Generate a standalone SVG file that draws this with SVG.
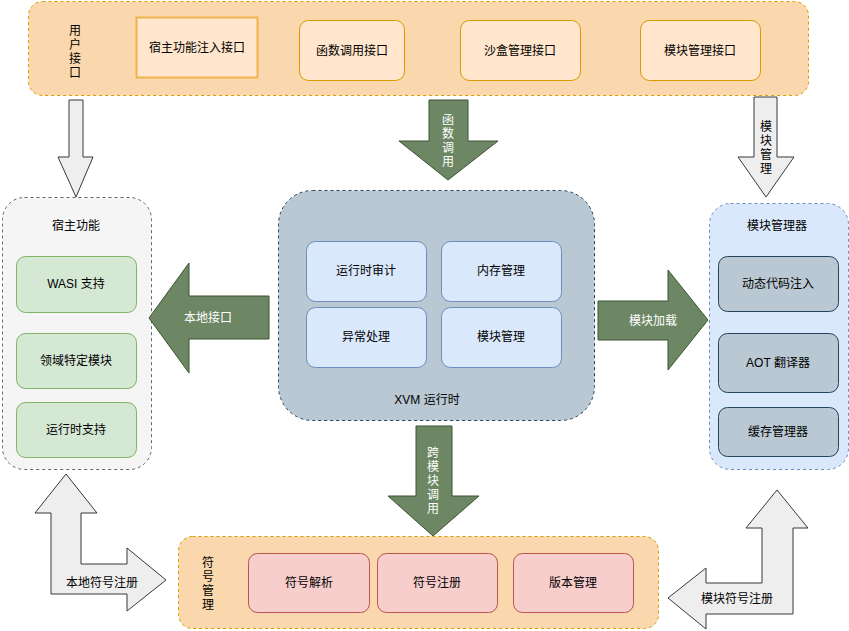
<svg xmlns="http://www.w3.org/2000/svg" width="849" height="631" viewBox="0 0 849 631">
<style>
text{font-family:"Liberation Sans","Noto Sans CJK SC",sans-serif;font-size:12px;fill:#000;text-anchor:middle;dominant-baseline:central}
.w{fill:#fff}
.org{fill:#fad7ac;stroke:#d79b00;stroke-dasharray:3 3}
.orgbox{fill:#ffe6cc;stroke:#d79b00}
.gray{fill:#f5f5f5;stroke:#666;stroke-dasharray:3 3}
.grn{fill:#d5e8d4;stroke:#82b366}
.xvm{fill:#bac8d3;stroke:#23445d;stroke-dasharray:3 3}
.blue{fill:#dae8fc;stroke:#6c8ebf}
.bluec{fill:#dae8fc;stroke:#6c8ebf;stroke-dasharray:3 3}
.slate{fill:#bac8d3;stroke:#23445d}
.red{fill:#f8cecc;stroke:#b85450}
.ga{fill:#eeeeee;stroke:#36393d;stroke-width:1}
.gr{fill:#6d8764;stroke:#3a5431;stroke-width:1}
</style>

<g id="user-interface">
<rect class="org" x="28.5" y="1.5" width="780" height="94" rx="14"/>
<text x="75" y="31">用</text><text x="75" y="45">户</text><text x="75" y="59">接</text><text x="75" y="73">口</text>
<g id="host-inject"><rect x="136.5" y="17.5" width="121" height="60" fill="#ffe6cc" stroke="#f0b24f" stroke-width="2"/><text x="197" y="48">宿主功能注入接口</text></g>
<g id="func-call-if"><rect class="orgbox" x="299.5" y="20.5" width="105" height="60" rx="9"/><text x="352" y="51">函数调用接口</text></g>
<g id="sandbox-if"><rect class="orgbox" x="460.5" y="20.5" width="120" height="60" rx="9"/><text x="520" y="51">沙盒管理接口</text></g>
<g id="module-if"><rect class="orgbox" x="640.5" y="20.5" width="120" height="60" rx="9"/><text x="700" y="51">模块管理接口</text></g>
</g>

<g id="host">
<rect class="gray" x="2.5" y="197.5" width="149" height="272" rx="22"/>
<text x="76" y="226">宿主功能</text>
<g id="wasi"><rect class="grn" x="16.5" y="256.5" width="120" height="56" rx="9"/><text x="76" y="284">WASI 支持</text></g>
<g id="domain"><rect class="grn" x="16.5" y="333.5" width="120" height="55" rx="9"/><text x="76" y="361">领域特定模块</text></g>
<g id="rt-support"><rect class="grn" x="16.5" y="402.5" width="120" height="55" rx="9"/><text x="76" y="430">运行时支持</text></g>
</g>

<g id="xvm">
<rect class="xvm" x="278.5" y="190.5" width="316" height="230" rx="34"/>
<text x="427" y="400">XVM 运行时</text>
<g id="audit"><rect class="blue" x="306.5" y="241.5" width="120" height="60" rx="9"/><text x="366" y="271">运行时审计</text></g>
<g id="memory"><rect class="blue" x="441.5" y="241.5" width="120" height="60" rx="9"/><text x="501" y="271">内存管理</text></g>
<g id="exception"><rect class="blue" x="306.5" y="307.5" width="120" height="60" rx="9"/><text x="366" y="337">异常处理</text></g>
<g id="module-mgmt"><rect class="blue" x="441.5" y="307.5" width="120" height="60" rx="9"/><text x="501" y="337">模块管理</text></g>
</g>

<g id="module-manager">
<rect class="bluec" x="709.5" y="203.5" width="139" height="266" rx="21"/>
<text x="777" y="226">模块管理器</text>
<g id="dyn-inject"><rect class="slate" x="718.5" y="256.5" width="120" height="55" rx="9"/><text x="778" y="284">动态代码注入</text></g>
<g id="aot"><rect class="slate" x="718.5" y="333.5" width="120" height="59" rx="9"/><text x="778" y="363">AOT 翻译器</text></g>
<g id="cache"><rect class="slate" x="718.5" y="407.5" width="120" height="49" rx="9"/><text x="778" y="432">缓存管理器</text></g>
</g>

<g id="symbol">
<rect class="org" x="178.5" y="536.5" width="480" height="92" rx="14"/>
<text x="208" y="563">符</text><text x="208" y="577">号</text><text x="208" y="591">管</text><text x="208" y="605">理</text>
<g id="sym-resolve"><rect class="red" x="248.5" y="553.5" width="121" height="59" rx="9"/><text x="309" y="583">符号解析</text></g>
<g id="sym-register"><rect class="red" x="377.5" y="553.5" width="120" height="59" rx="9"/><text x="437" y="583">符号注册</text></g>
<g id="version"><rect class="red" x="513.5" y="553.5" width="120" height="59" rx="9"/><text x="573" y="583">版本管理</text></g>
</g>

<g id="connectors">
<polygon class="ga" points="69,100 83,100 83,157 93,157 76,197 58,157 69,157"/>
<polygon class="ga" points="754,97 777,97 777,157 794,157 766,197 738,157 754,157"/>
<text x="766" y="127">模</text><text x="766" y="141">块</text><text x="766" y="155">管</text><text x="766" y="169">理</text>

<polygon class="gr" points="429,100 468,100 468,141 498,141 448,180 399,141 429,141"/>
<text class="w" x="448" y="120">函</text><text class="w" x="448" y="134">数</text><text class="w" x="448" y="148">调</text><text class="w" x="448" y="162">用</text>

<polygon class="gr" points="416,426 452,426 452,496 479,496 433,536 388,496 416,496"/>
<text class="w" x="433" y="453">跨</text><text class="w" x="433" y="467">模</text><text class="w" x="433" y="481">块</text><text class="w" x="433" y="495">调</text><text class="w" x="433" y="509">用</text>

<polygon class="gr" points="269,296 269,339 189,339 189,373 149,318 189,263 189,296"/>
<text class="w" x="208" y="318">本地接口</text>

<polygon class="gr" points="598,301 668,301 668,270 708,320 668,370 668,340 598,340"/>
<text class="w" x="653" y="321">模块加载</text>

<polygon class="ga" points="66,474 97,513 81,513 81,564 127,564 127,548 166,580 127,611 127,594 51,594 51,513 35,513"/>
<text x="102" y="583">本地符号注册</text>

<polygon class="ga" points="777,490 808,528 793,528 793,614 706,614 706,629 668,598 706,568 706,583 762,583 762,528 746,528"/>
<text x="737" y="599">模块符号注册</text>
</g>
</svg>
